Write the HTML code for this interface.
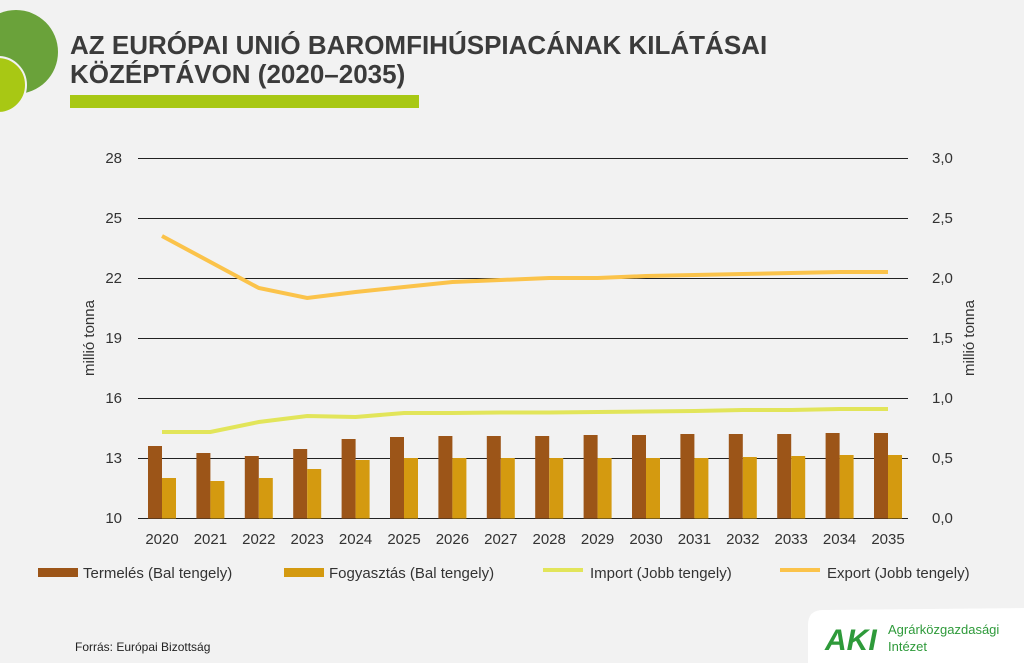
<!DOCTYPE html>
<html><head><meta charset="utf-8"><style>
body{margin:0;width:1024px;height:663px;background:#f2f2f2;overflow:hidden;font-family:"Liberation Sans",sans-serif}
</style></head><body>
<svg width="1024" height="663" viewBox="0 0 1024 663" xmlns="http://www.w3.org/2000/svg" style="position:absolute;left:0;top:0">
<rect width="1024" height="663" fill="#f2f2f2"/>
<circle cx="16" cy="52" r="42" fill="#6aa23a"/>
<circle cx="-2" cy="85" r="28" fill="#a8c814" stroke="#f2f2f2" stroke-width="2"/>
<text x="70" y="54" font-size="26" font-weight="bold" fill="#3b3b3b">AZ EURÓPAI UNIÓ BAROMFIHÚSPIACÁNAK KILÁTÁSAI</text>
<text x="70" y="83" font-size="26" font-weight="bold" fill="#3b3b3b">KÖZÉPTÁVON (2020–2035)</text>
<rect x="70" y="95" width="349" height="13" fill="#a8c814"/>
<g stroke="#222" stroke-width="1">
<line x1="138" y1="158.5" x2="908" y2="158.5"/><line x1="138" y1="218.5" x2="908" y2="218.5"/>
<line x1="138" y1="278.5" x2="908" y2="278.5"/><line x1="138" y1="338.5" x2="908" y2="338.5"/>
<line x1="138" y1="398.5" x2="908" y2="398.5"/><line x1="138" y1="458.5" x2="908" y2="458.5"/>
<line x1="138" y1="518.5" x2="908" y2="518.5"/>
</g>
<g font-size="15" fill="#333" text-anchor="end">
<text x="122" y="163">28</text><text x="122" y="223">25</text><text x="122" y="283">22</text>
<text x="122" y="343">19</text><text x="122" y="403">16</text><text x="122" y="463">13</text><text x="122" y="523">10</text>
</g>
<g font-size="15" fill="#333" text-anchor="start">
<text x="932" y="163">3,0</text><text x="932" y="223">2,5</text><text x="932" y="283">2,0</text>
<text x="932" y="343">1,5</text><text x="932" y="403">1,0</text><text x="932" y="463">0,5</text><text x="932" y="523">0,0</text>
</g>
<text transform="translate(94,338) rotate(-90)" font-size="15" fill="#333" text-anchor="middle">millió tonna</text>
<text transform="translate(974,338) rotate(-90)" font-size="15" fill="#333" text-anchor="middle">millió tonna</text>
<g id="bars"></g>
<g font-size="15" fill="#333" text-anchor="middle" id="xl"></g>
<polyline id="imp" fill="none" stroke="#e2e55a" stroke-width="4"/>
<polyline id="exp" fill="none" stroke="#fbc34a" stroke-width="4"/>
<g font-size="15" fill="#333">
<rect x="38" y="568" width="40" height="9" fill="#9c5518"/><text x="83" y="578">Termelés (Bal tengely)</text>
<rect x="284" y="568" width="40" height="9" fill="#d49a10"/><text x="329" y="578">Fogyasztás (Bal tengely)</text>
<rect x="543" y="568" width="40" height="4" fill="#e2e55a"/><text x="590" y="578">Import (Jobb tengely)</text>
<rect x="780" y="568" width="40" height="4" fill="#fbc34a"/><text x="827" y="578">Export (Jobb tengely)</text>
</g>
<text x="75" y="651" font-size="12" fill="#222">Forrás: Európai Bizottság</text>
<path d="M808 663 L808 625 Q808 610 823 610 L1024 608 L1024 663 Z" fill="#fff"/>
<text x="825" y="650" font-size="30" font-weight="bold" fill="#2e9a3a" font-style="italic">AKI</text>
<text x="888" y="634" font-size="13" fill="#2e9a3a">Agrárközgazdasági</text>
<text x="888" y="651" font-size="13" fill="#2e9a3a">Intézet</text>
</svg>
<script>
var ns="http://www.w3.org/2000/svg";
var t=[446,453,456,449,439,437,436,436,436,435,435,434,434,434,433,433];
var f=[478,481,478,469,460,458,458,458,458,458,458,458,457,456,455,455];
var im=[432,432,422,416,417,413,413,412.5,412.5,412,411.5,411,410,410,409,409];
var ex=[236,262,288,298,292,287,282,280,278,278,276,275,274,273,272,272];
var b=document.getElementById("bars"),xl=document.getElementById("xl"),pi=[],pe=[];
for(var i=0;i<16;i++){var c=162+i*48.4;
function r(x,y,col){var e=document.createElementNS(ns,"rect");e.setAttribute("x",x);e.setAttribute("y",y);e.setAttribute("width",14);e.setAttribute("height",518.5-y);e.setAttribute("fill",col);b.appendChild(e);}
r(c-14,t[i],"#9c5518");r(c,f[i],"#d49a10");
var tx=document.createElementNS(ns,"text");tx.setAttribute("x",c);tx.setAttribute("y",544);tx.textContent=2020+i;xl.appendChild(tx);
pi.push(c+","+im[i]);pe.push(c+","+ex[i]);}
document.getElementById("imp").setAttribute("points",pi.join(" "));
document.getElementById("exp").setAttribute("points",pe.join(" "));
</script>
</body></html>
